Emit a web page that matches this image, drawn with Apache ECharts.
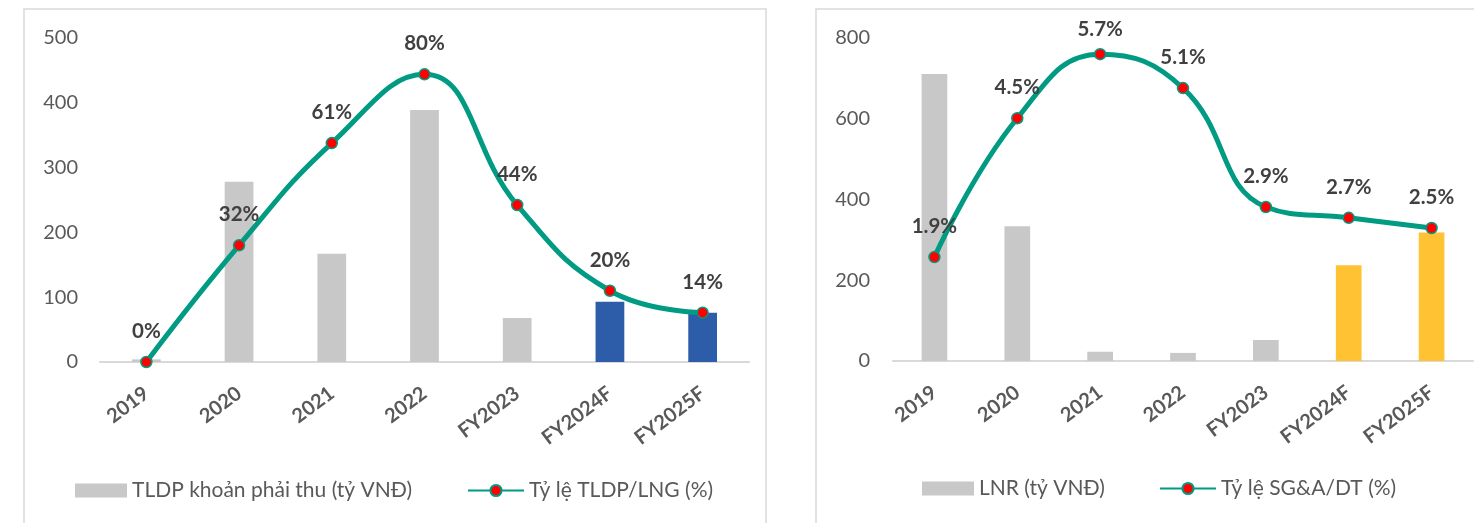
<!DOCTYPE html>
<html>
<head>
<meta charset="utf-8">
<script src="https://cdn.jsdelivr.net/npm/echarts@6/dist/echarts.min.js"></script>
<style>
  html, body { margin: 0; padding: 0; background: #fff; }
  #c { width: 1474px; height: 523px; }
</style>
</head>
<body>
<div id="c"></div>
<script>
const categories = ['2019', '2020', '2021', '2022', 'FY2023', 'FY2024F', 'FY2025F'];
const forecastFlags = [false, false, false, false, false, true, true];

// Left chart
const leftBarName = 'TLDP khoản phải thu (tỷ VNĐ)';
const leftLineName = 'Tỷ lệ TLDP/LNG (%)';
const receivables = [4, 278, 167, 389, 68, 93, 76];
const tldpRatio = [0, 32.4, 60.8, 79.9, 43.6, 19.8, 13.7];
const leftTicks = [0, 100, 200, 300, 400, 500];

// Right chart
const rightBarName = 'LNR (tỷ VNĐ)';
const rightLineName = 'Tỷ lệ SG&A/DT (%)';
const lnr = [711, 334, 23, 20, 52, 237, 318];
const sgaRatio = [1.93, 4.51, 5.70, 5.07, 2.86, 2.66, 2.47];
const rightTicks = [0, 200, 400, 600, 800];

const FONT = 'Lato';
const GRAY_BAR = '#C8C8C8';
const TEAL = '#009B82';
const axisLabelColor = '#595959';
const dataLabelColor = '#404040';

function barSeries(name, values, xi, yi, fcColor) {
  return {
    type: 'bar', name: name, xAxisIndex: xi, yAxisIndex: yi,
    barWidth: '31%',
    data: values.map((v, i) => ({ value: v, itemStyle: { color: forecastFlags[i] ? fcColor : GRAY_BAR } })),
    itemStyle: { color: GRAY_BAR },
    z: 2
  };
}
function lineSeries(name, values, xi, yi, fmt, distOverride) {
  return {
    type: 'line', name: name, xAxisIndex: xi, yAxisIndex: yi + 1,
    smooth: 0.45,
    symbol: 'circle', symbolSize: 11,
    lineStyle: { color: TEAL, width: 5 },
    itemStyle: { color: '#FF0000', borderColor: TEAL, borderWidth: 1.5 },
    label: {
      show: true, position: 'top', distance: 14,
      formatter: p => fmt(p.value),
      fontFamily: FONT, fontWeight: 'bold', fontSize: 20.5, color: dataLabelColor
    },
    data: values.map((v, i) => (distOverride && distOverride[i] !== undefined)
      ? { value: v, label: { distance: distOverride[i] } } : v),
    z: 5
  };
}

function xAxis(gi) {
  return {
    type: 'category', gridIndex: gi, data: categories,
    axisLine: { lineStyle: { color: '#D9D9D9', width: 2 } },
    axisTick: { show: false },
    axisLabel: { rotate: 37, margin: 29, fontFamily: FONT, fontWeight: 'bold', fontSize: 20, color: axisLabelColor, interval: 0 }
  };
}
function yAxis(gi, ticks, margin) {
  return {
    type: 'value', gridIndex: gi, min: ticks[0], max: ticks[ticks.length - 1], interval: ticks[1] - ticks[0],
    axisLine: { show: false }, axisTick: { show: false }, splitLine: { show: false },
    axisLabel: { margin: margin, fontFamily: FONT, fontSize: 20, color: axisLabelColor }
  };
}
function hiddenAxis(gi, max) {
  return { type: 'value', gridIndex: gi, min: 0, max: max, show: false, splitLine: { show: false } };
}

const legendText = { fontFamily: FONT, fontSize: 21, color: axisLabelColor, lineHeight: 20 };

const option = {
  animation: false,
  backgroundColor: '#fff',
  graphic: [
    { type: 'rect', shape: { x: 24, y: 9, width: 742, height: 600 }, style: { fill: 'none', stroke: '#D9D9D9', lineWidth: 1.5 }, silent: true },
    { type: 'rect', shape: { x: 816, y: 9, width: 700, height: 600 }, style: { fill: 'none', stroke: '#D9D9D9', lineWidth: 1.5 }, silent: true }
  ],
  grid: [
    { left: 100, top: 38, width: 649, height: 324 },
    { left: 893, top: 38, width: 580, height: 323 }
  ],
  xAxis: [xAxis(0), xAxis(1)],
  yAxis: [yAxis(0, leftTicks, 22), hiddenAxis(0, 90), yAxis(1, rightTicks, 23), hiddenAxis(1, 6)],
  legend: [
    { data: [leftBarName], left: 75, top: 480, padding: 0, icon: 'rect', itemWidth: 52, itemHeight: 14, itemGap: 0, textStyle: legendText },
    { data: [leftLineName], left: 467, top: 480, padding: 0, itemWidth: 56, itemHeight: 14, itemGap: 0, textStyle: legendText },
    { data: [rightBarName], left: 922, top: 478, padding: 0, icon: 'rect', itemWidth: 52, itemHeight: 14, itemGap: 0, textStyle: legendText },
    { data: [rightLineName], left: 1159, top: 478, padding: 0, itemWidth: 56, itemHeight: 14, itemGap: 0, textStyle: legendText }
  ],
  series: [
    barSeries(leftBarName, receivables, 0, 0, '#2D5DA8'),
    lineSeries(leftLineName, tldpRatio, 0, 0, v => Math.round(v) + '%'),
    barSeries(rightBarName, lnr, 1, 2, '#FFC233'),
    lineSeries(rightLineName, sgaRatio, 1, 2, v => v.toFixed(1) + '%', { 2: 8 })
  ]
};

const chart = echarts.init(document.getElementById('c'), null, { renderer: 'canvas' });
chart.setOption(option);
</script>
</body>
</html>
